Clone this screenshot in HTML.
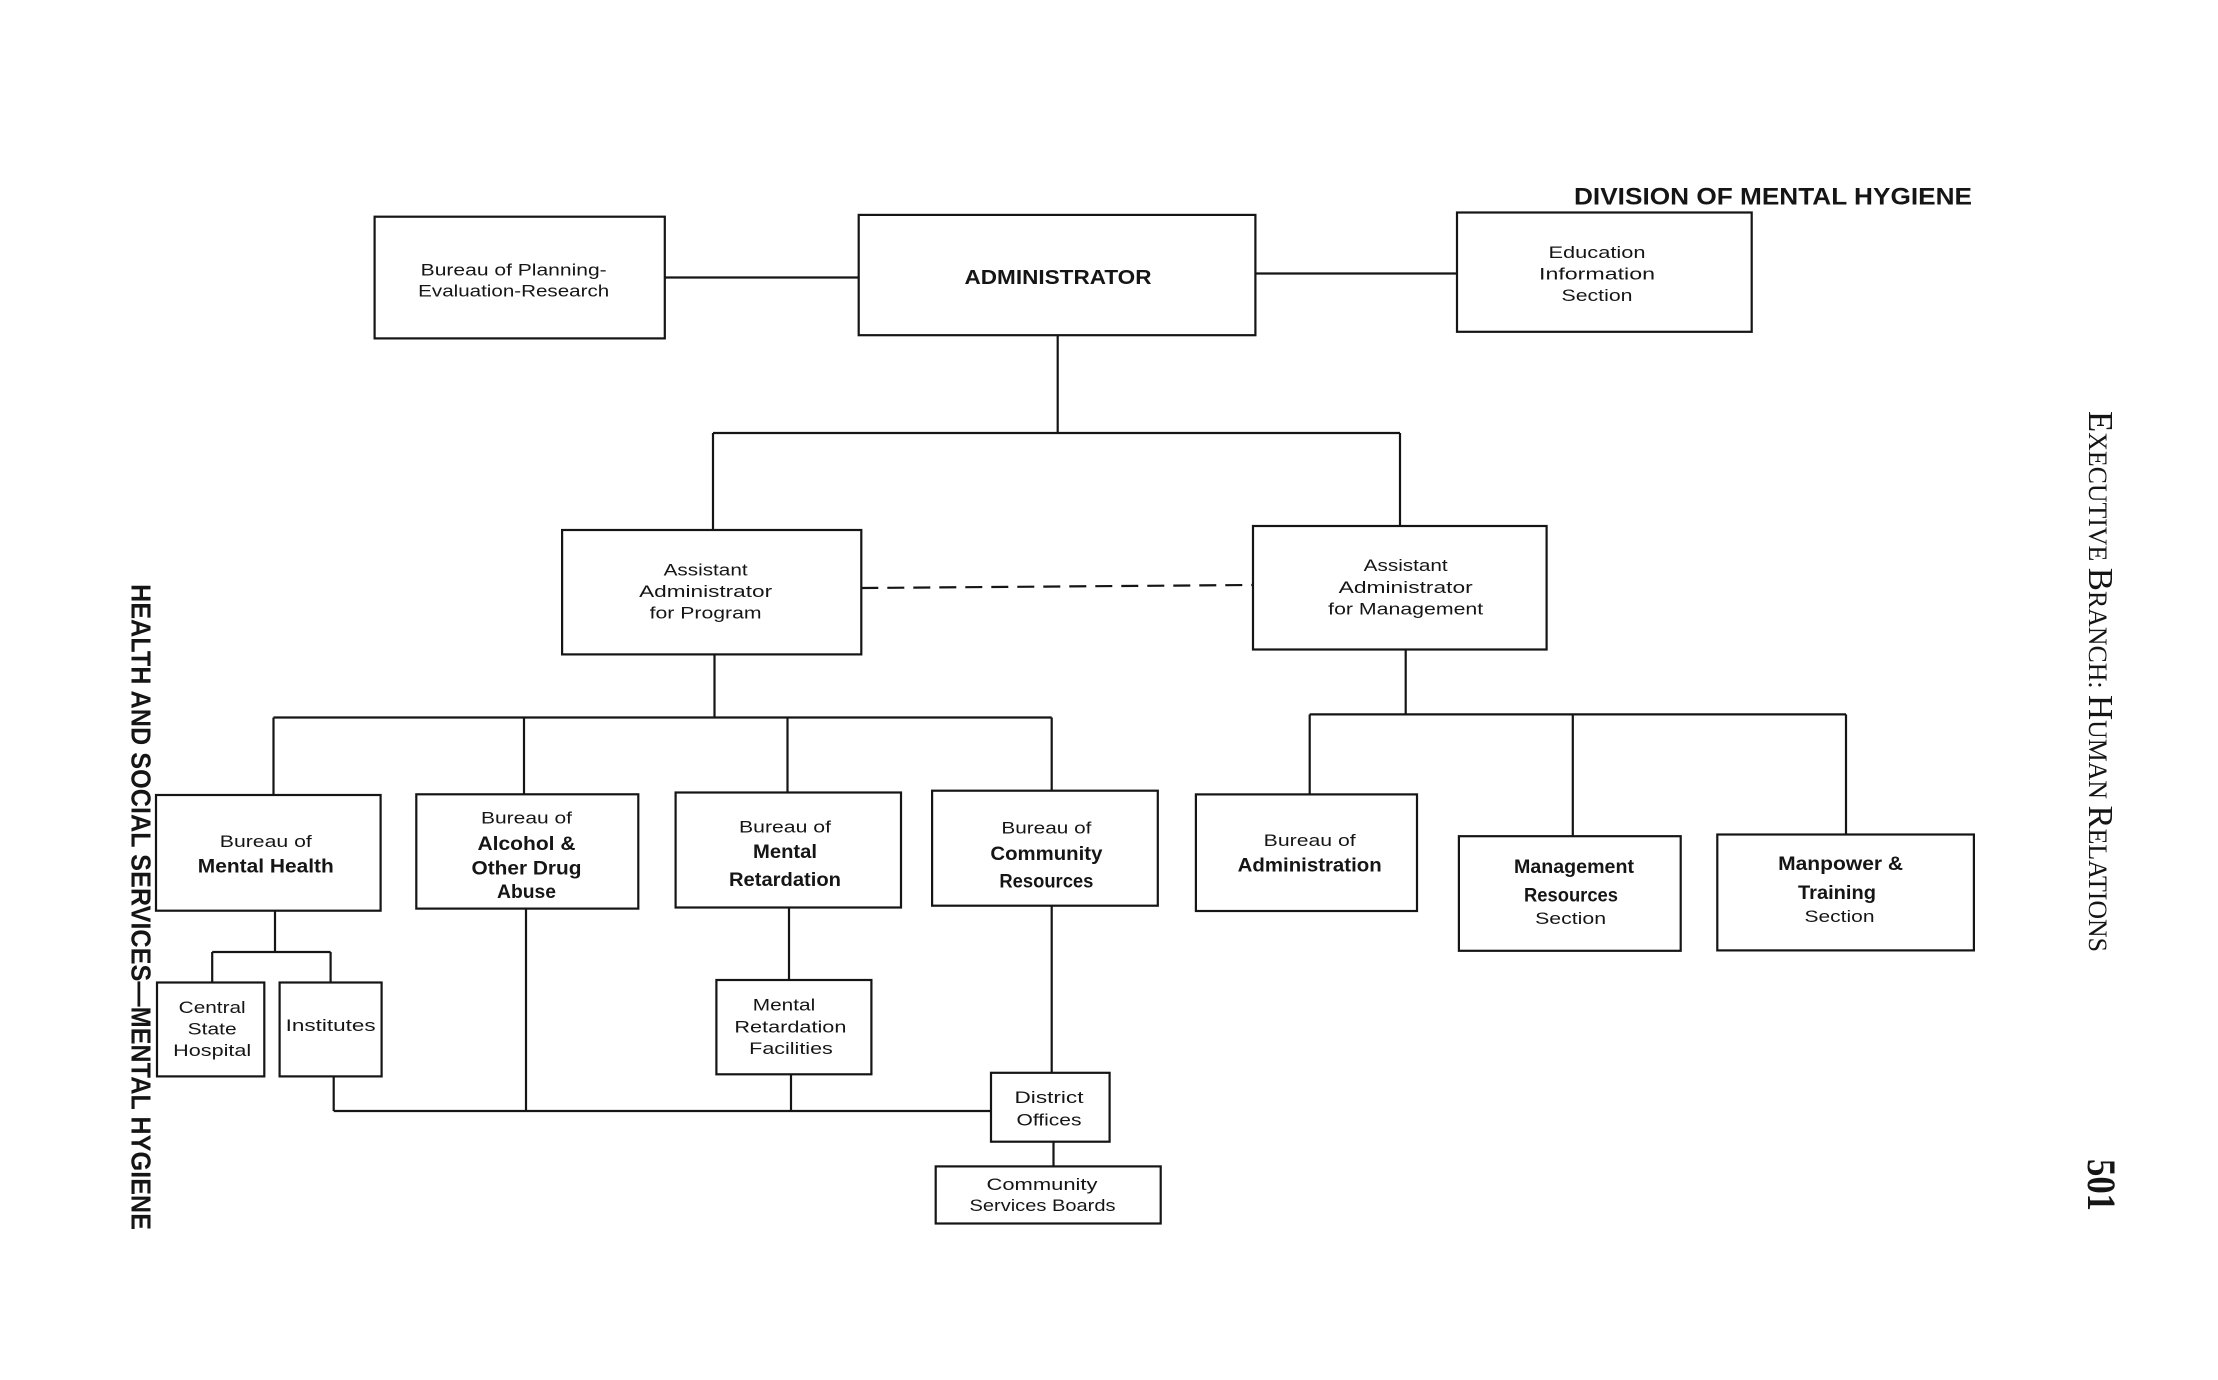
<!DOCTYPE html>
<html>
<head>
<meta charset="utf-8">
<style>
html,body{margin:0;padding:0;background:#fff}
svg{display:block}
</style>
</head>
<body>
<svg width="2218" height="1380" viewBox="0 0 2218 1380" xmlns="http://www.w3.org/2000/svg">
<rect x="0" y="0" width="2218" height="1380" fill="#ffffff"/>

<g fill="none" stroke="#151515" stroke-width="2.2">
  <!-- boxes -->
  <rect x="374.6" y="216.7" width="290.2" height="121.7"/>
  <rect x="858.7" y="214.9" width="396.7" height="120.3"/>
  <rect x="1457" y="212.5" width="294.7" height="119.3"/>
  <rect x="562.1" y="530" width="299.2" height="124.4"/>
  <rect x="1253" y="526" width="293.6" height="123.5"/>
  <rect x="156" y="795" width="224.6" height="115.7"/>
  <rect x="416.3" y="794.3" width="222" height="114.3"/>
  <rect x="675.6" y="792.5" width="225.4" height="115"/>
  <rect x="932.1" y="790.7" width="225.7" height="115"/>
  <rect x="1195.9" y="794.4" width="221.1" height="116.6"/>
  <rect x="1458.9" y="836.2" width="221.8" height="114.6"/>
  <rect x="1717.3" y="834.5" width="256.6" height="115.9"/>
  <rect x="157" y="982.5" width="107.3" height="93.9"/>
  <rect x="279.6" y="982.5" width="102" height="93.9"/>
  <rect x="716.4" y="980" width="155" height="94.3"/>
  <rect x="991" y="1072.8" width="118.6" height="68.9"/>
  <rect x="935.7" y="1166.4" width="225" height="57.1"/>

  <!-- connectors -->
  <path d="M664.8 277.5 H858.7
           M1255.4 273.5 H1457
           M1057.7 335.2 V433 M713 433 H1400 M713 433 V530 M1400 433 V526
           M714.5 654.4 V717.5 M273.5 717.5 H1051.7 M273.5 717.5 V795 M524 717.5 V794.3 M787.5 717.5 V792.5 M1051.7 717.5 V790.7
           M1405.7 649.5 V714.4 M1309.7 714.4 H1846 M1309.7 714.4 V794.4 M1572.8 714.4 V836.2 M1846 714.4 V834.5
           M275 910.7 V952 M212.2 952 H330.6 M212.2 952 V982.5 M330.6 952 V982.5
           M333.7 1076.4 V1111 M333.7 1111 H991 M526 908.6 V1111 M789 907.5 V980 M791 1074.3 V1111
           M1051.7 905.7 V1072.8 M1053.5 1141.7 V1166.4"/>
  <path d="M861.3 588 L1253 585" stroke-dasharray="17 9"/>
</g>

<g font-family="'Liberation Sans', sans-serif" text-anchor="middle" fill="#151515" font-size="17">
  <!-- Planning -->
  <text x="513.7" y="275.5" textLength="186" lengthAdjust="spacingAndGlyphs">Bureau of Planning-</text>
  <text x="513.7" y="296.5" textLength="191" lengthAdjust="spacingAndGlyphs">Evaluation-Research</text>
  <!-- Administrator -->
  <text x="1058" y="284" font-size="20" font-weight="bold" textLength="187" lengthAdjust="spacingAndGlyphs">ADMINISTRATOR</text>
  <!-- Education -->
  <text x="1597" y="258" textLength="97" lengthAdjust="spacingAndGlyphs">Education</text>
  <text x="1597" y="279.7" textLength="116" lengthAdjust="spacingAndGlyphs">Information</text>
  <text x="1597" y="300.8" textLength="71" lengthAdjust="spacingAndGlyphs">Section</text>
  <!-- Title -->
  <text x="1574" y="204.5" text-anchor="start" font-size="24" font-weight="bold" textLength="398" lengthAdjust="spacingAndGlyphs">DIVISION OF MENTAL HYGIENE</text>
  <!-- Asst Program -->
  <text x="705.6" y="575.4" textLength="84" lengthAdjust="spacingAndGlyphs">Assistant</text>
  <text x="705.6" y="597.2" textLength="133" lengthAdjust="spacingAndGlyphs">Administrator</text>
  <text x="705.6" y="618.6" textLength="112" lengthAdjust="spacingAndGlyphs">for Program</text>
  <!-- Asst Management -->
  <text x="1405.7" y="571.2" textLength="84" lengthAdjust="spacingAndGlyphs">Assistant</text>
  <text x="1405.7" y="593.2" textLength="134" lengthAdjust="spacingAndGlyphs">Administrator</text>
  <text x="1405.7" y="614.6" textLength="155" lengthAdjust="spacingAndGlyphs">for Management</text>
  <!-- Mental Health -->
  <text x="265.8" y="846.9" textLength="92" lengthAdjust="spacingAndGlyphs">Bureau of</text>
  <text x="265.8" y="872.5" font-size="19" font-weight="bold" textLength="136" lengthAdjust="spacingAndGlyphs">Mental Health</text>
  <!-- Alcohol -->
  <text x="526.5" y="823.7" textLength="91" lengthAdjust="spacingAndGlyphs">Bureau of</text>
  <text x="526.5" y="850" font-size="19" font-weight="bold" textLength="98" lengthAdjust="spacingAndGlyphs">Alcohol &amp;</text>
  <text x="526.5" y="874.3" font-size="19" font-weight="bold" textLength="110" lengthAdjust="spacingAndGlyphs">Other Drug</text>
  <text x="526.5" y="898.2" font-size="19" font-weight="bold" textLength="59" lengthAdjust="spacingAndGlyphs">Abuse</text>
  <!-- Mental Retardation -->
  <text x="785" y="832.6" textLength="92" lengthAdjust="spacingAndGlyphs">Bureau of</text>
  <text x="785" y="858.2" font-size="19" font-weight="bold" textLength="64" lengthAdjust="spacingAndGlyphs">Mental</text>
  <text x="785" y="886.1" font-size="19" font-weight="bold" textLength="112" lengthAdjust="spacingAndGlyphs">Retardation</text>
  <!-- Community Resources -->
  <text x="1046.4" y="833.7" textLength="90" lengthAdjust="spacingAndGlyphs">Bureau of</text>
  <text x="1046.4" y="860" font-size="19" font-weight="bold" textLength="112" lengthAdjust="spacingAndGlyphs">Community</text>
  <text x="1046.4" y="887.5" font-size="19" font-weight="bold" textLength="94" lengthAdjust="spacingAndGlyphs">Resources</text>
  <!-- Bureau of Administration -->
  <text x="1309.7" y="845.8" textLength="92" lengthAdjust="spacingAndGlyphs">Bureau of</text>
  <text x="1309.7" y="871.5" font-size="19" font-weight="bold" textLength="144" lengthAdjust="spacingAndGlyphs">Administration</text>
  <!-- Management Resources Section -->
  <text x="1574" y="873.2" font-size="19" font-weight="bold" textLength="120" lengthAdjust="spacingAndGlyphs">Management</text>
  <text x="1571" y="901.3" font-size="19" font-weight="bold" textLength="94" lengthAdjust="spacingAndGlyphs">Resources</text>
  <text x="1570.6" y="924" textLength="71" lengthAdjust="spacingAndGlyphs">Section</text>
  <!-- Manpower & Training -->
  <text x="1840.6" y="869.8" font-size="19" font-weight="bold" textLength="125" lengthAdjust="spacingAndGlyphs">Manpower &amp;</text>
  <text x="1837" y="898.8" font-size="19" font-weight="bold" textLength="78" lengthAdjust="spacingAndGlyphs">Training</text>
  <text x="1839.5" y="922.2" textLength="70" lengthAdjust="spacingAndGlyphs">Section</text>
  <!-- Central State Hospital -->
  <text x="212.2" y="1013" textLength="67" lengthAdjust="spacingAndGlyphs">Central</text>
  <text x="212.2" y="1034.4" textLength="49" lengthAdjust="spacingAndGlyphs">State</text>
  <text x="212.2" y="1055.8" textLength="78" lengthAdjust="spacingAndGlyphs">Hospital</text>
  <!-- Institutes -->
  <text x="330.6" y="1030.8" textLength="90" lengthAdjust="spacingAndGlyphs">Institutes</text>
  <!-- MR Facilities -->
  <text x="784" y="1010.5" textLength="62.5" lengthAdjust="spacingAndGlyphs">Mental</text>
  <text x="790.4" y="1032.6" textLength="112" lengthAdjust="spacingAndGlyphs">Retardation</text>
  <text x="791" y="1054" textLength="83.6" lengthAdjust="spacingAndGlyphs">Facilities</text>
  <!-- District Offices -->
  <text x="1049" y="1103.2" textLength="69" lengthAdjust="spacingAndGlyphs">District</text>
  <text x="1049" y="1125.5" textLength="65" lengthAdjust="spacingAndGlyphs">Offices</text>
  <!-- Community Services Boards -->
  <text x="1042" y="1189.8" textLength="111" lengthAdjust="spacingAndGlyphs">Community</text>
  <text x="1042.5" y="1211.2" textLength="146" lengthAdjust="spacingAndGlyphs">Services Boards</text>
</g>

<!-- Left vertical running head -->
<text transform="translate(131.5,584) rotate(90)" font-family="'Liberation Sans', sans-serif" font-weight="bold" font-size="28" fill="#151515" textLength="646" lengthAdjust="spacingAndGlyphs">HEALTH AND SOCIAL SERVICES—MENTAL HYGIENE</text>

<!-- Right vertical running head -->
<text transform="translate(2089,411) rotate(90)" font-family="'Liberation Serif', serif" fill="#151515" textLength="541" lengthAdjust="spacingAndGlyphs"><tspan font-size="35">E</tspan><tspan font-size="26">XECUTIVE </tspan><tspan font-size="35">B</tspan><tspan font-size="26">RANCH: </tspan><tspan font-size="35">H</tspan><tspan font-size="26">UMAN </tspan><tspan font-size="35">R</tspan><tspan font-size="26">ELATIONS</tspan></text>

<!-- Page number -->
<text transform="translate(2088,1159) rotate(90)" font-family="'Liberation Serif', serif" font-weight="bold" font-size="40" fill="#151515" textLength="52" lengthAdjust="spacingAndGlyphs">501</text>
</svg>
</body>
</html>
